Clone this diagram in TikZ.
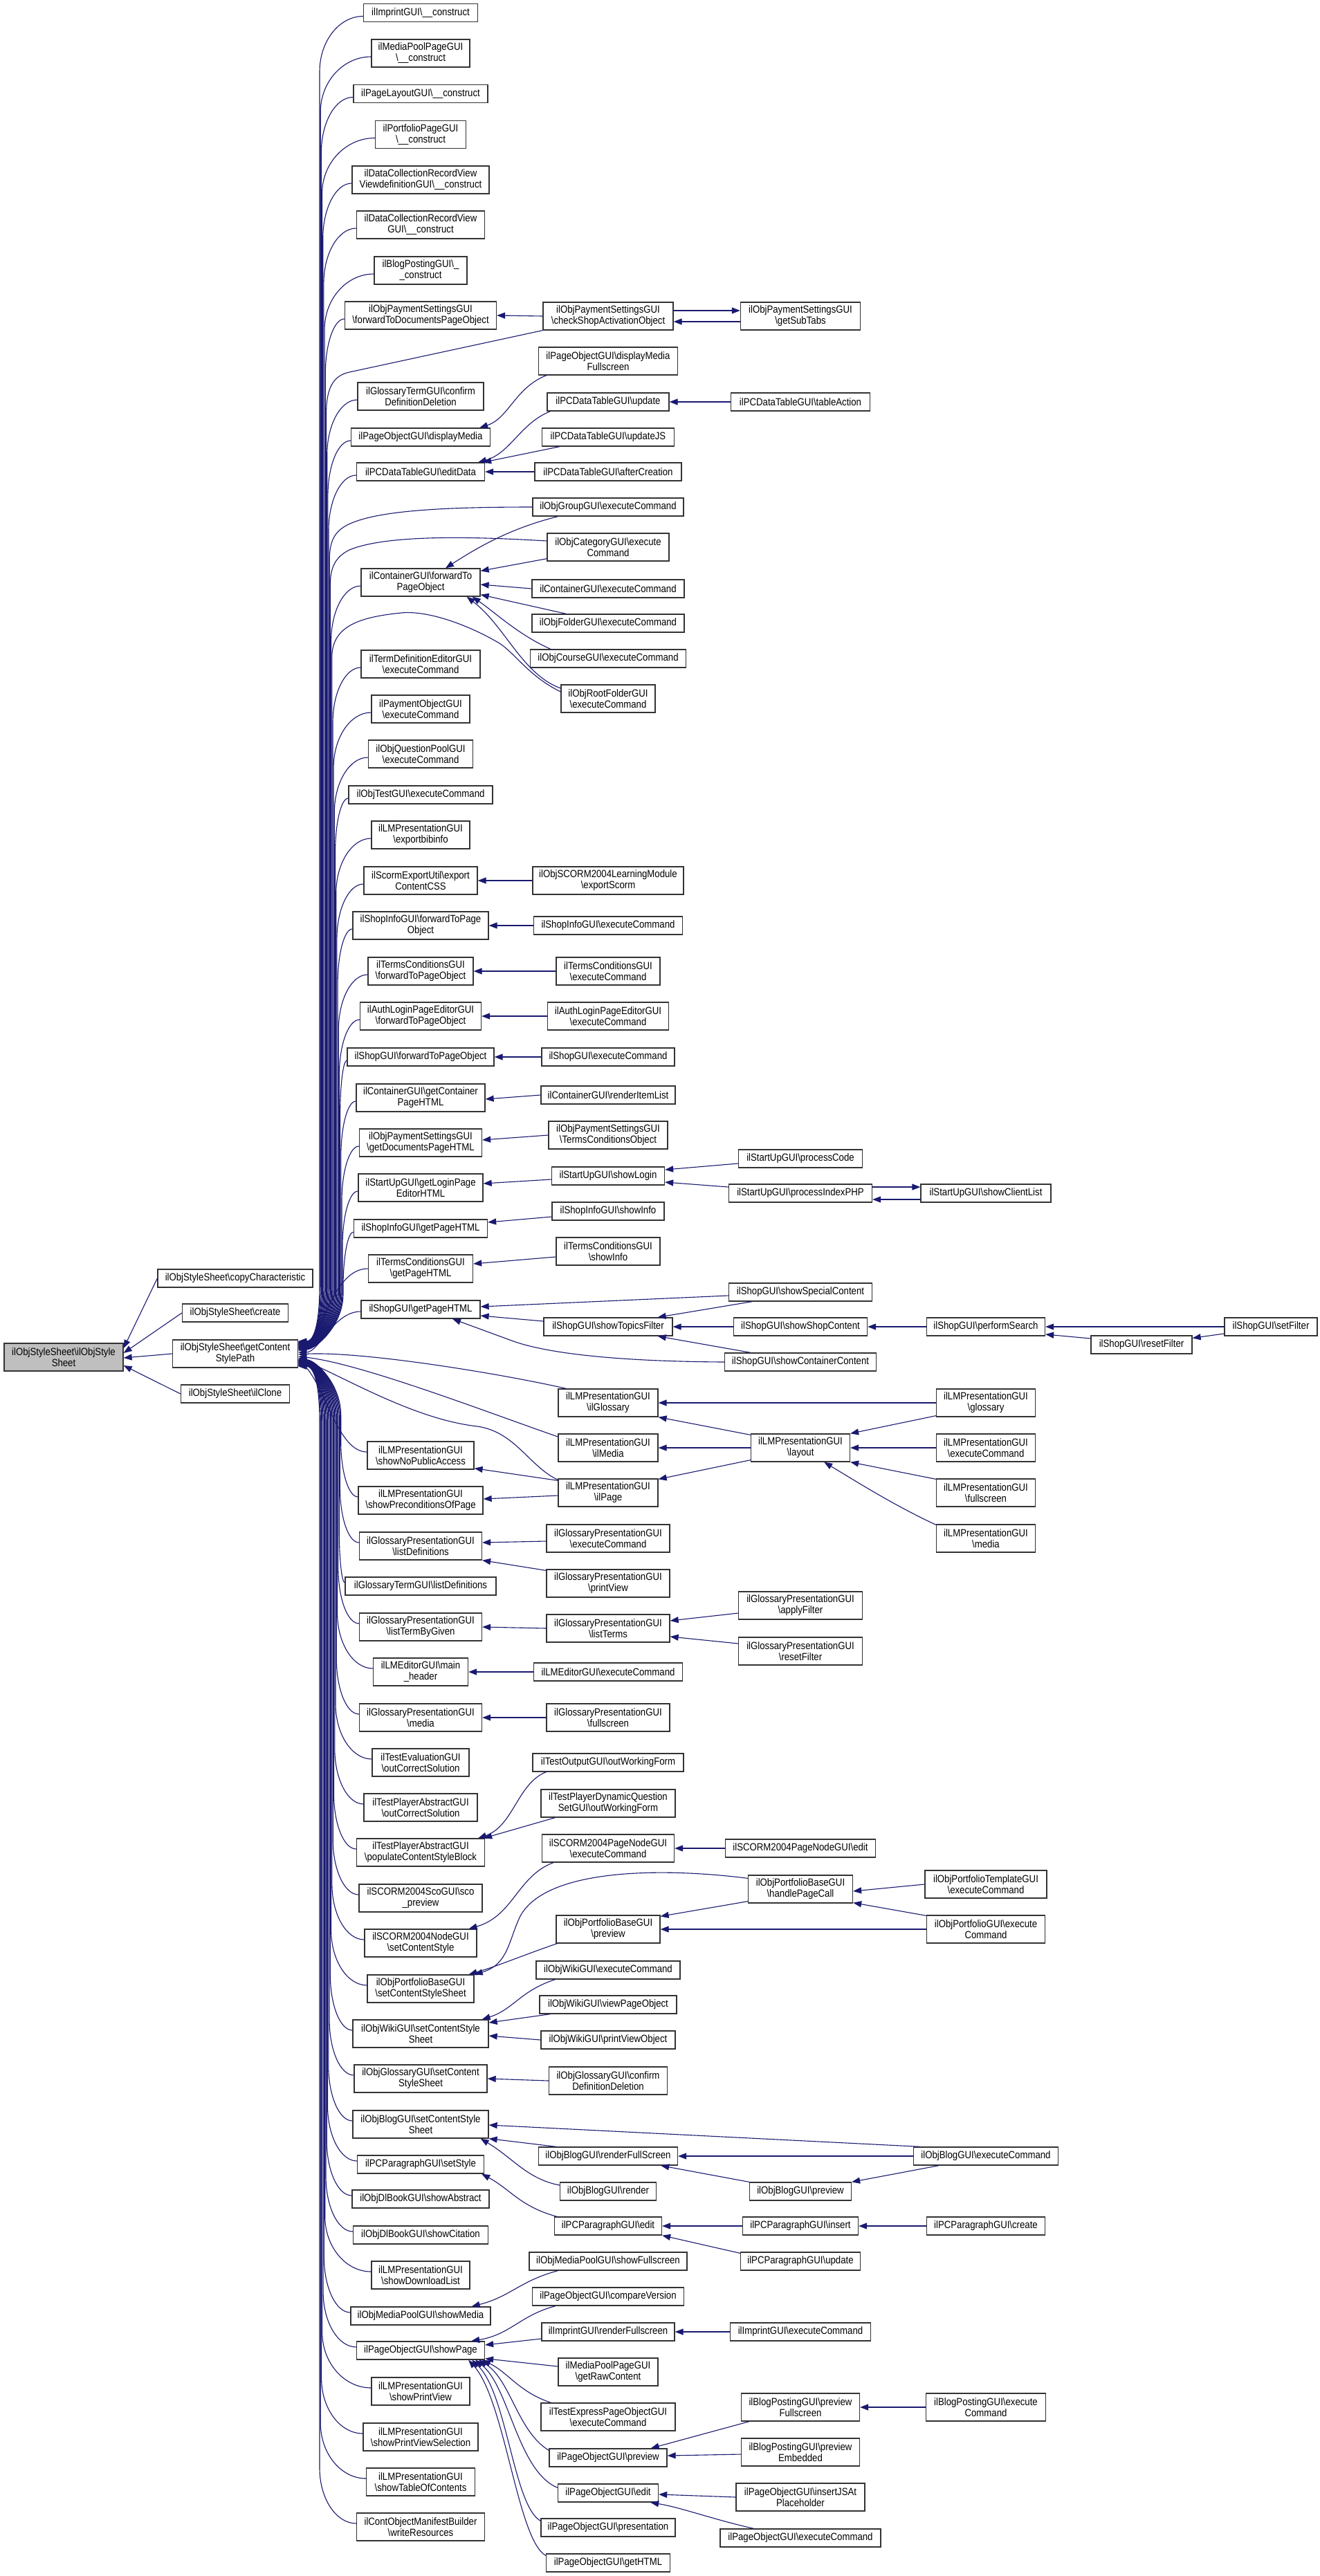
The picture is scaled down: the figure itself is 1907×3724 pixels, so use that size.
\documentclass[tikz,border=0pt]{standalone}
\usepackage{fontspec}
\setmainfont{Liberation Sans}[FakeStretch=0.88]
\usetikzlibrary{arrows.meta,calc}
\definecolor{eb}{RGB}{25,25,112}
\definecolor{rootfill}{RGB}{191,191,191}
\newcommand\bs{\textbackslash}
\tikzset{
  bx/.style={draw=black!80, line width=1.3pt, inner sep=0pt, align=center, font=\fontsize{15}{16}\selectfont},
  e/.style={draw=eb, line width=1.1pt, -{Triangle[length=12pt,width=9pt]}},
}
\newcommand\nbox[6]{\node[bx, minimum width=#4pt, minimum height=#5pt] (#1) at (#2,-#3) {#6};}
\newcommand\fanU[3]{%
\draw[e] let \p1=($(#1.west)+(0,-5)$), \p2=($(gcsp.east)+(0,#3)$) in
 (\p1) .. controls ({\x1-0.55*(\x1-#2)},\y1) and (#2,{\y1-36}) .. (#2,{\y1-80})
 -- (#2,{\y2+80}) .. controls (#2,{\y2+35}) and ({\x2+25},\y2) .. (\p2);}
\newcommand\fanD[3]{%
\draw[e] let \p1=($(#1.west)+(0,5)$), \p2=($(gcsp.east)+(0,#3)$) in
 (\p1) .. controls ({\x1-0.55*(\x1-#2)},\y1) and (#2,{\y1+36}) .. (#2,{\y1+80})
 -- (#2,{\y2-80}) .. controls (#2,{\y2-35}) and ({\x2+25},\y2) .. (\p2);}
\begin{document}
\begin{tikzpicture}[x=1pt,y=1pt]
\useasboundingbox (0,0) rectangle (1907,-3724);
\fill[white] (0,0) rectangle (1907,-3724);

% root and column 2
\node[bx, fill=rootfill, minimum width=172pt, minimum height=40pt] (root) at (92,-1962) {ilObjStyleSheet\bs ilObjStyle\\Sheet};
\nbox{copyChar}{340}{1848}{224}{26}{ilObjStyleSheet\bs copyCharacteristic}
\nbox{create}{340}{1898}{153}{26}{ilObjStyleSheet\bs create}
\nbox{gcsp}{340}{1957}{181}{40}{ilObjStyleSheet\bs getContent\\StylePath}
\nbox{ilClone}{340}{2015}{157}{26}{ilObjStyleSheet\bs ilClone}

% column 3
\nbox{c1}{608}{18.5}{165}{26}{ilImprintGUI\bs\_\_construct}
\nbox{c2}{608}{77}{142}{40}{ilMediaPoolPageGUI\\\bs\_\_construct}
\nbox{c3}{608}{135.5}{194}{26}{ilPageLayoutGUI\bs\_\_construct}
\nbox{c4}{608}{194.5}{131}{40}{ilPortfolioPageGUI\\\bs\_\_construct}
\nbox{c5}{608}{260}{198}{40}{ilDataCollectionRecordView\\ViewdefinitionGUI\bs\_\_construct}
\nbox{c6}{608}{325}{185}{40}{ilDataCollectionRecordView\\GUI\bs\_\_construct}
\nbox{c7}{608}{391}{134}{40}{ilBlogPostingGUI\bs\_\\\_construct}
\nbox{c8}{608}{456}{219}{40}{ilObjPaymentSettingsGUI\\\bs forwardToDocumentsPageObject}
\nbox{c9}{608}{573}{182}{40}{ilGlossaryTermGUI\bs confirm\\DefinitionDeletion}
\nbox{c10}{608}{632}{201}{26}{ilPageObjectGUI\bs displayMedia}
\nbox{c11}{608}{682}{185}{26}{ilPCDataTableGUI\bs editData}
\nbox{c12}{608}{842}{172}{40}{ilContainerGUI\bs forwardTo\\PageObject}
\nbox{c13}{608}{960}{172}{40}{ilTermDefinitionEditorGUI\\\bs executeCommand}
\nbox{c14}{608}{1025}{142}{40}{ilPaymentObjectGUI\\\bs executeCommand}
\nbox{c15}{608}{1090}{151}{40}{ilObjQuestionPoolGUI\\\bs executeCommand}
\nbox{c16}{608}{1149}{208}{26}{ilObjTestGUI\bs executeCommand}
\nbox{c17}{608}{1207}{142}{40}{ilLMPresentationGUI\\\bs exportbibinfo}
\nbox{c18}{608}{1273}{164}{40}{ilScormExportUtil\bs export\\ContentCSS}
\nbox{c19}{608}{1338}{196}{40}{ilShopInfoGUI\bs forwardToPage\\Object}
\nbox{c20}{608}{1404}{152}{40}{ilTermsConditionsGUI\\\bs forwardToPageObject}
\nbox{c21}{608}{1469}{175}{40}{ilAuthLoginPageEditorGUI\\\bs forwardToPageObject}
\nbox{c22}{608}{1528}{212}{26}{ilShopGUI\bs forwardToPageObject}
\nbox{c23}{608}{1587}{186}{40}{ilContainerGUI\bs getContainer\\PageHTML}
\nbox{c24}{608}{1652}{177}{40}{ilObjPaymentSettingsGUI\\\bs getDocumentsPageHTML}
\nbox{c25}{608}{1717}{180}{40}{ilStartUpGUI\bs getLoginPage\\EditorHTML}
\nbox{c26}{608}{1776}{193}{26}{ilShopInfoGUI\bs getPageHTML}
\nbox{c27}{608}{1834}{151}{40}{ilTermsConditionsGUI\\\bs getPageHTML}
\nbox{c28}{608}{1893}{172}{26}{ilShopGUI\bs getPageHTML}
\nbox{c29}{608}{2104}{154}{40}{ilLMPresentationGUI\\\bs showNoPublicAccess}
\nbox{c30}{608}{2169}{180}{40}{ilLMPresentationGUI\\\bs showPreconditionsOfPage}
\nbox{c31}{608}{2235}{177}{40}{ilGlossaryPresentationGUI\\\bs listDefinitions}
\nbox{c32}{608}{2293}{218}{26}{ilGlossaryTermGUI\bs listDefinitions}
\nbox{c33}{608}{2352}{177}{40}{ilGlossaryPresentationGUI\\\bs listTermByGiven}
\nbox{c34}{608}{2417}{137}{40}{ilLMEditorGUI\bs main\\\_header}
\nbox{c35}{608}{2483}{177}{40}{ilGlossaryPresentationGUI\\\bs media}
\nbox{c36}{608}{2548}{140}{40}{ilTestEvaluationGUI\\\bs outCorrectSolution}
\nbox{c37}{608}{2613}{164}{40}{ilTestPlayerAbstractGUI\\\bs outCorrectSolution}
\nbox{c38}{608}{2678}{185}{40}{ilTestPlayerAbstractGUI\\\bs populateContentStyleBlock}
\nbox{c39}{608}{2744}{178}{40}{ilSCORM2004ScoGUI\bs sco\\\_preview}
\nbox{c40}{608}{2809}{162}{40}{ilSCORM2004NodeGUI\\\bs setContentStyle}
\nbox{c41}{608}{2875}{154}{40}{ilObjPortfolioBaseGUI\\\bs setContentStyleSheet}
\nbox{c42}{608}{2940}{196}{40}{ilObjWikiGUI\bs setContentStyle\\Sheet}
\nbox{c43}{608}{3005}{192}{40}{ilObjGlossaryGUI\bs setContent\\StyleSheet}
\nbox{c44}{608}{3071}{196}{40}{ilObjBlogGUI\bs setContentStyle\\Sheet}
\nbox{c45}{608}{3129}{183}{26}{ilPCParagraphGUI\bs setStyle}
\nbox{c46}{608}{3179}{198}{26}{ilObjDlBookGUI\bs showAbstract}
\nbox{c47}{608}{3231}{195}{26}{ilObjDlBookGUI\bs showCitation}
\nbox{c48}{608}{3289}{142}{40}{ilLMPresentationGUI\\\bs showDownloadList}
\nbox{c49}{608}{3348}{202}{26}{ilObjMediaPoolGUI\bs showMedia}
\nbox{c50}{608}{3398}{185}{26}{ilPageObjectGUI\bs showPage}
\nbox{c51}{608}{3457}{142}{40}{ilLMPresentationGUI\\\bs showPrintView}
\nbox{c52}{608}{3523}{166}{40}{ilLMPresentationGUI\\\bs showPrintViewSelection}
\nbox{c53}{608}{3588}{157}{40}{ilLMPresentationGUI\\\bs showTableOfContents}
\nbox{c54}{608}{3653}{185}{40}{ilContObjectManifestBuilder\\\bs writeResources}

% column 4
\nbox{checkShop}{879}{457}{188}{40}{ilObjPaymentSettingsGUI\\\bs checkShopActivationObject}
\nbox{dispMediaFull}{879}{522}{201}{40}{ilPageObjectGUI\bs displayMedia\\Fullscreen}
\nbox{dtUpdate}{879}{581}{176}{26}{ilPCDataTableGUI\bs update}
\nbox{dtUpdateJS}{879}{632}{191}{26}{ilPCDataTableGUI\bs updateJS}
\nbox{dtAfterCreation}{879}{682}{212}{26}{ilPCDataTableGUI\bs afterCreation}
\nbox{groupExec}{879}{733}{218}{26}{ilObjGroupGUI\bs executeCommand}
\nbox{catExec}{879}{791}{176}{40}{ilObjCategoryGUI\bs execute\\Command}
\nbox{contExec}{879}{851}{220}{26}{ilContainerGUI\bs executeCommand}
\nbox{folderExec}{879}{901}{220}{26}{ilObjFolderGUI\bs executeCommand}
\nbox{courseExec}{879}{952}{225}{26}{ilObjCourseGUI\bs executeCommand}
\nbox{rootExec}{879}{1010}{136}{40}{ilObjRootFolderGUI\\\bs executeCommand}
\nbox{exportScorm}{879}{1273}{218}{40}{ilObjSCORM2004LearningModule\\\bs exportScorm}
\nbox{shopInfoExec}{879}{1338}{215}{26}{ilShopInfoGUI\bs executeCommand}
\nbox{termsExec}{879}{1404}{150}{40}{ilTermsConditionsGUI\\\bs executeCommand}
\nbox{authExec}{879}{1469}{175}{40}{ilAuthLoginPageEditorGUI\\\bs executeCommand}
\nbox{shopExec}{879}{1528}{192}{26}{ilShopGUI\bs executeCommand}
\nbox{renderItemList}{879}{1583}{194}{26}{ilContainerGUI\bs renderItemList}
\nbox{termsCondObj}{879}{1641}{172}{40}{ilObjPaymentSettingsGUI\\\bs TermsConditionsObject}
\nbox{showLogin}{879}{1700}{163}{26}{ilStartUpGUI\bs showLogin}
\nbox{shopInfoShowInfo}{879}{1751}{162}{26}{ilShopInfoGUI\bs showInfo}
\nbox{termsShowInfo}{879}{1809}{150}{40}{ilTermsConditionsGUI\\\bs showInfo}
\nbox{topicsFilter}{879}{1918}{186}{26}{ilShopGUI\bs showTopicsFilter}
\nbox{lmGlossary}{879}{2028}{144}{40}{ilLMPresentationGUI\\\bs ilGlossary}
\nbox{lmMedia}{879}{2093}{144}{40}{ilLMPresentationGUI\\\bs ilMedia}
\nbox{lmPage}{879}{2158}{144}{40}{ilLMPresentationGUI\\\bs ilPage}
\nbox{gpExec}{879}{2224}{178}{40}{ilGlossaryPresentationGUI\\\bs executeCommand}
\nbox{gpPrint}{879}{2289}{178}{40}{ilGlossaryPresentationGUI\\\bs printView}
\nbox{gpListTerms}{879}{2354}{178}{40}{ilGlossaryPresentationGUI\\\bs listTerms}
\nbox{lmEditExec}{879}{2417}{215}{26}{ilLMEditorGUI\bs executeCommand}
\nbox{gpFullscreen}{879}{2483}{178}{40}{ilGlossaryPresentationGUI\\\bs fullscreen}
\nbox{testOutWF}{879}{2548}{218}{26}{ilTestOutputGUI\bs outWorkingForm}
\nbox{tpDyn}{879}{2607}{194}{40}{ilTestPlayerDynamicQuestion\\SetGUI\bs outWorkingForm}
\nbox{scormPageExec}{879}{2672}{191}{40}{ilSCORM2004PageNodeGUI\\\bs executeCommand}
\nbox{portPreview}{879}{2789}{150}{40}{ilObjPortfolioBaseGUI\\\bs preview}
\nbox{wikiExec}{879}{2848}{208}{26}{ilObjWikiGUI\bs executeCommand}
\nbox{wikiView}{879}{2898}{198}{26}{ilObjWikiGUI\bs viewPageObject}
\nbox{wikiPrint}{879}{2949}{194}{26}{ilObjWikiGUI\bs printViewObject}
\nbox{glossConfirm}{879}{3008}{171}{40}{ilObjGlossaryGUI\bs confirm\\DefinitionDeletion}
\nbox{blogRenderFS}{879}{3117}{201}{26}{ilObjBlogGUI\bs renderFullScreen}
\nbox{blogRender}{879}{3168}{139}{26}{ilObjBlogGUI\bs render}
\nbox{pcEdit}{879}{3218}{155}{26}{ilPCParagraphGUI\bs edit}
\nbox{mpShowFS}{879}{3269}{228}{26}{ilObjMediaPoolGUI\bs showFullscreen}
\nbox{compareVersion}{879}{3320}{219}{26}{ilPageObjectGUI\bs compareVersion}
\nbox{imprintRenderFS}{879}{3371}{192}{26}{ilImprintGUI\bs renderFullscreen}
\nbox{getRawContent}{879}{3429}{144}{40}{ilMediaPoolPageGUI\\\bs getRawContent}
\nbox{testExpressExec}{879}{3494}{194}{40}{ilTestExpressPageObjectGUI\\\bs executeCommand}
\nbox{poPreview}{879}{3553}{170}{26}{ilPageObjectGUI\bs preview}
\nbox{poEdit}{879}{3604}{145}{26}{ilPageObjectGUI\bs edit}
\nbox{poPresentation}{879}{3654}{194}{26}{ilPageObjectGUI\bs presentation}
\nbox{poGetHTML}{879}{3705}{179}{26}{ilPageObjectGUI\bs getHTML}

% column 5
\nbox{getSubTabs}{1157}{457}{173}{40}{ilObjPaymentSettingsGUI\\\bs getSubTabs}
\nbox{tableAction}{1157}{581}{201}{26}{ilPCDataTableGUI\bs tableAction}
\nbox{processCode}{1157}{1675}{179}{26}{ilStartUpGUI\bs processCode}
\nbox{processIndex}{1157}{1725}{207}{26}{ilStartUpGUI\bs processIndexPHP}
\nbox{showSpecial}{1157}{1868}{207}{26}{ilShopGUI\bs showSpecialContent}
\nbox{showShop}{1157}{1918}{193}{26}{ilShopGUI\bs showShopContent}
\nbox{showContainer}{1157}{1969}{219}{26}{ilShopGUI\bs showContainerContent}
\nbox{layout}{1157}{2093}{143}{40}{ilLMPresentationGUI\\\bs layout}
\nbox{gpApply}{1157}{2321}{179}{40}{ilGlossaryPresentationGUI\\\bs applyFilter}
\nbox{gpReset}{1157}{2387}{179}{40}{ilGlossaryPresentationGUI\\\bs resetFilter}
\nbox{scormPageEdit}{1157}{2672}{217}{26}{ilSCORM2004PageNodeGUI\bs edit}
\nbox{handlePageCall}{1157}{2731}{151}{40}{ilObjPortfolioBaseGUI\\\bs handlePageCall}
\nbox{blogPreview}{1157}{3168}{147}{26}{ilObjBlogGUI\bs preview}
\nbox{pcInsert}{1157}{3218}{167}{26}{ilPCParagraphGUI\bs insert}
\nbox{pcUpdate}{1157}{3269}{173}{26}{ilPCParagraphGUI\bs update}
\nbox{imprintExec}{1157}{3371}{203}{26}{ilImprintGUI\bs executeCommand}
\nbox{bpPreviewFS}{1157}{3480}{171}{40}{ilBlogPostingGUI\bs preview\\Fullscreen}
\nbox{bpPreviewEmb}{1157}{3545}{171}{40}{ilBlogPostingGUI\bs preview\\Embedded}
\nbox{insertJS}{1157}{3610}{186}{40}{ilPageObjectGUI\bs insertJSAt\\Placeholder}
\nbox{poExec}{1157}{3669}{232}{26}{ilPageObjectGUI\bs executeCommand}

% column 6 and 7
\nbox{showClientList}{1425}{1725}{188}{26}{ilStartUpGUI\bs showClientList}
\nbox{performSearch}{1425}{1918}{171}{26}{ilShopGUI\bs performSearch}
\nbox{lmGlossary2}{1425}{2028}{143}{40}{ilLMPresentationGUI\\\bs glossary}
\nbox{lmExec}{1425}{2093}{143}{40}{ilLMPresentationGUI\\\bs executeCommand}
\nbox{lmFullscreen}{1425}{2158}{143}{40}{ilLMPresentationGUI\\\bs fullscreen}
\nbox{lmMedia2}{1425}{2224}{143}{40}{ilLMPresentationGUI\\\bs media}
\nbox{portTemplateExec}{1425}{2724}{176}{40}{ilObjPortfolioTemplateGUI\\\bs executeCommand}
\nbox{portExec}{1425}{2789}{171}{40}{ilObjPortfolioGUI\bs execute\\Command}
\nbox{blogExec}{1425}{3117}{209}{26}{ilObjBlogGUI\bs executeCommand}
\nbox{pcCreate}{1425}{3218}{171}{26}{ilPCParagraphGUI\bs create}
\nbox{bpExec}{1425}{3480}{173}{40}{ilBlogPostingGUI\bs execute\\Command}
\nbox{resetFilter}{1650}{1944}{146}{26}{ilShopGUI\bs resetFilter}
\nbox{setFilter}{1837}{1918}{134}{26}{ilShopGUI\bs setFilter}

% ---------- edges to root
\draw[e] (copyChar.west) -- ($(root.east)+(0,13)$);
\draw[e] (create.west) -- ($(root.east)+(0,6)$);
\draw[e] (gcsp.west) -- ($(root.east)+(0,-1)$);
\draw[e] (ilClone.west) -- ($(root.east)+(0,-12)$);

% ---------- fan into getContentStylePath (above)
\fanU{c1}{462.0}{18.0}
\fanU{c2}{463.2}{17.6}
\fanU{c3}{464.4}{17.2}
\fanU{c4}{465.6}{16.8}
\fanU{c5}{466.7}{16.4}
\fanU{c6}{467.9}{16.0}
\fanU{c7}{469.1}{15.6}
\fanU{c8}{470.3}{15.2}
\fanU{c9}{472.7}{14.4}
\fanU{c10}{473.9}{14.0}
\fanU{c11}{475.0}{13.6}
\fanU{c12}{478.6}{12.4}
\fanU{c13}{481.0}{11.6}
\fanU{c14}{482.1}{11.2}
\fanU{c15}{483.3}{10.8}
\fanU{c16}{484.5}{10.4}
\fanU{c17}{485.7}{10.0}
\fanU{c18}{486.9}{9.6}
\fanU{c19}{488.1}{9.2}
\fanU{c20}{489.3}{8.8}
\fanU{c21}{490.4}{8.4}
\fanU{c22}{491.6}{8.0}
\fanU{c23}{492.8}{7.6}
\fanU{c24}{494.0}{7.2}
\fanU{c25}{495.0}{6.6}
\fanU{c26}{496.0}{6.0}
% near ones
\draw[e] let \p2=($(gcsp.east)+(0,4)$) in (c27.west) .. controls (480,-1834) and ({\x2+35},{\y2+20}) .. (\p2);
\draw[e] let \p2=($(gcsp.east)+(0,2)$) in ($(c28.west)+(0,-3)$) .. controls (482,-1896) and ({\x2+30},\y2) .. (\p2);
\draw[e] let \p2=($(gcsp.east)+(0,-8)$) in ($(c29.west)+(0,5)$) .. controls (488,-2099) and ({\x2+40},{\y2-40}) .. (\p2);
% below
\fanD{c30}{492.7}{-8.6}
\fanD{c31}{491.4}{-9.0}
\fanD{c32}{490.2}{-9.4}
\fanD{c33}{488.9}{-9.8}
\fanD{c34}{487.6}{-10.2}
\fanD{c35}{486.3}{-10.6}
\fanD{c36}{485.0}{-11.0}
\fanD{c37}{483.8}{-11.4}
\fanD{c38}{482.5}{-11.8}
\fanD{c39}{481.2}{-12.2}
\fanD{c40}{479.9}{-12.6}
\fanD{c41}{478.6}{-13.0}
\fanD{c42}{477.4}{-13.4}
\fanD{c43}{476.1}{-13.8}
\fanD{c44}{474.8}{-14.2}
\fanD{c45}{473.5}{-14.6}
\fanD{c46}{472.2}{-15.0}
\fanD{c47}{471.0}{-15.4}
\fanD{c48}{469.7}{-15.8}
\fanD{c49}{468.4}{-16.2}
\fanD{c50}{467.1}{-16.6}
\fanD{c51}{465.8}{-17.0}
\fanD{c52}{464.6}{-17.4}
\fanD{c53}{463.3}{-17.8}
\fanD{c54}{462.0}{-18.2}

% column-4 callers of getContentStylePath
\draw[e] let \p2=($(gcsp.east)+(0,14.8)$) in (checkShop.south west) -- (505,-538) .. controls (482,-543) and (471.5,-560) .. (471.5,-600) -- (471.5,{\y2+80}) .. controls (471.5,{\y2+35}) and ({\x2+25},\y2) .. (\p2);
\draw[e] let \p2=($(gcsp.east)+(0,13.2)$) in (groupExec.west) .. controls (640,-733) and (540,-738) .. (500,-760) .. controls (482,-770) and (476.2,-785) .. (476.2,-810) -- (476.2,{\y2+80}) .. controls (476.2,{\y2+35}) and ({\x2+25},\y2) .. (\p2);
\draw[e] let \p2=($(gcsp.east)+(0,12.8)$) in ($(catExec.west)+(0,9)$) .. controls (690,-776) and (560,-772) .. (505,-795) .. controls (485,-805) and (477.4,-820) .. (477.4,-845) -- (477.4,{\y2+80}) .. controls (477.4,{\y2+35}) and ({\x2+25},\y2) .. (\p2);
\draw[e] let \p2=($(gcsp.east)+(0,12)$) in ($(rootExec.west)+(0,10)$) .. controls (765,-978) and (745,-945) .. (722,-930) .. controls (680,-905) and (620,-882) .. (580,-886) .. controls (520,-892) and (479.8,-905) .. (479.8,-950) -- (479.8,{\y2+80}) .. controls (479.8,{\y2+35}) and ({\x2+25},\y2) .. (\p2);
\draw[e] let \p2=($(gcsp.east)+(0,-1)$) in ($(lmGlossary.north west)+(12,0)$) .. controls (720,-1985) and ({\x2+90},{\y2+5}) .. (\p2);
\draw[e] let \p2=($(gcsp.east)+(0,-4)$) in ($(lmMedia.west)+(0,16)$) .. controls (700,-2040) and ({\x2+90},{\y2-10}) .. (\p2);
\draw[e] let \p2=($(gcsp.east)+(0,-6)$) in ($(lmPage.north west)+(0,-2)$) .. controls (765,-2120) and (745,-2070) .. (690,-2062) .. controls (600,-2052) and ({\x2+70},{\y2-30}) .. (\p2);

% ---------- other edges
\draw[e] (checkShop.west) -- (c8.east);
\draw[e] ($(checkShop.east)+(0,8)$) -- ($(getSubTabs.west)+(0,8)$);
\draw[e] ($(getSubTabs.west)+(0,-8)$) -- ($(checkShop.east)+(0,-8)$);
\draw[e] ($(dispMediaFull.south west)+(12,0)$) .. controls (745,-560) and (735,-605) .. ($(c10.north east)+(-16,0)$);
\draw[e] ($(dtUpdate.south west)+(5,0)$) .. controls (752,-612) and (738,-655) .. ($(c11.north east)+(-10,0)$);
\draw[e] ($(dtUpdateJS.south west)+(26,0)$) -- ($(c11.north east)+(-3,0)$);
\draw[e] (dtAfterCreation.west) -- (c11.east);
\draw[e] (tableAction.west) -- (dtUpdate.east);

\draw[e] ($(groupExec.south west)+(37,0)$) .. controls (745,-762) and (700,-785) .. ($(c12.north)+(36,0)$);
\draw[e] ($(catExec.south west)+(0,4)$) -- ($(c12.north east)+(0,-4)$);
\draw[e] (contExec.west) -- ($(c12.east)+(0,-3)$);
\draw[e] ($(folderExec.north west)+(50,0)$) -- ($(c12.south east)+(0,3)$);
\draw[e] ($(courseExec.north west)+(30,0)$) .. controls (750,-918) and (715,-885) .. ($(c12.south east)+(-12,0)$);
\draw[e] ($(rootExec.west)+(0,15)$) .. controls (755,-975) and (730,-905) .. ($(c12.south east)+(-20,0)$);

\draw[e] (exportScorm.west) -- (c18.east);
\draw[e] (shopInfoExec.west) -- (c19.east);
\draw[e] (termsExec.west) -- (c20.east);
\draw[e] (authExec.west) -- (c21.east);
\draw[e] (shopExec.west) -- (c22.east);
\draw[e] (renderItemList.west) -- ($(c23.east)+(0,-2)$);
\draw[e] (termsCondObj.west) -- ($(c24.east)+(0,4)$);
\draw[e] ($(showLogin.west)+(0,-5)$) -- ($(c25.east)+(0,6)$);
\draw[e] ($(processCode.west)+(0,-7)$) -- ($(showLogin.east)+(0,9)$);
\draw[e] ($(processIndex.west)+(0,9)$) -- ($(showLogin.east)+(0,-9)$);
\draw[e] ($(processIndex.east)+(0,9)$) -- ($(showClientList.west)+(0,9)$);
\draw[e] ($(showClientList.west)+(0,-9)$) -- ($(processIndex.east)+(0,-9)$);
\draw[e] ($(shopInfoShowInfo.west)+(0,-8)$) -- ($(c26.east)+(0,9)$);
\draw[e] ($(termsShowInfo.west)+(0,-8)$) -- ($(c27.east)+(0,7)$);

\draw[e] ($(showSpecial.west)+(0,-5)$) -- ($(c28.east)+(0,4)$);
\draw[e] ($(showSpecial.south west)+(34,0)$) -- ($(topicsFilter.north east)+(-22,0)$);
\draw[e] ($(topicsFilter.west)+(0,8)$) -- ($(c28.east)+(0,-9)$);
\draw[e] (showShop.west) -- (topicsFilter.east);
\draw[e] ($(showContainer.north west)+(38,0)$) -- ($(topicsFilter.south east)+(-22,0)$);
\draw[e] (showContainer.west) .. controls (880,-1968) and (790,-1955) .. (745,-1940) -- ($(c28.south)+(46,0)$);
\draw[e] (performSearch.west) -- (showShop.east);
\draw[e] (setFilter.west) -- (performSearch.east);
\draw[e] ($(resetFilter.west)+(0,9)$) -- ($(performSearch.east)+(0,-11)$);
\draw[e] ($(setFilter.west)+(0,-10)$) -- ($(resetFilter.north east)+(0,-4)$);

\draw[e] ($(layout.north west)+(0,-2)$) -- (lmGlossary.south east);
\draw[e] (layout.west) -- (lmMedia.east);
\draw[e] ($(layout.south west)+(0,3)$) -- ($(lmPage.north east)+(0,-1)$);
\draw[e] (lmGlossary2.west) -- (lmGlossary.east);
\draw[e] ($(lmGlossary2.south west)+(0,2)$) -- (layout.north east);
\draw[e] (lmExec.west) -- (layout.east);
\draw[e] ($(lmFullscreen.north west)+(0,-1)$) -- (layout.south east);
\draw[e] ($(lmMedia2.north west)+(0,-1)$) .. controls (1290,-2175) and (1235,-2140) .. ($(layout.south east)+(-38,0)$);
\draw[e] ($(lmPage.north west)+(0,-3)$) -- ($(c29.south east)+(0,2)$);
\draw[e] ($(lmPage.west)+(0,-4)$) -- ($(c30.east)+(0,2)$);

\draw[e] ($(gpExec.west)+(0,-4)$) -- ($(c31.east)+(0,5)$);
\draw[e] ($(gpPrint.north west)+(0,-2)$) -- (c31.south east);
\draw[e] (gpListTerms.west) -- (c33.east);
\draw[e] ($(gpApply.west)+(0,-11)$) -- ($(gpListTerms.east)+(0,11)$);
\draw[e] ($(gpReset.west)+(0,11)$) -- ($(gpListTerms.east)+(0,-12)$);
\draw[e] (lmEditExec.west) -- (c34.east);
\draw[e] (gpFullscreen.west) -- (c35.east);

\draw[e] ($(testOutWF.south west)+(20,0)$) .. controls (748,-2578) and (742,-2640) .. ($(c38.north east)+(-10,0)$);
\draw[e] ($(tpDyn.south west)+(21,0)$) -- ($(c38.north east)+(-2,0)$);
\draw[e] (scormPageEdit.west) -- (scormPageExec.east);
\draw[e] ($(scormPageExec.south west)+(17,0)$) .. controls (748,-2712) and (742,-2770) .. ($(c40.north east)+(-12,0)$);

\draw[e] ($(handlePageCall.north west)+(0,-5)$) .. controls (960,-2700) and (790,-2700) .. (752,-2770) .. controls (735,-2805) and (735,-2840) .. (c41.north east);
\draw[e] ($(handlePageCall.south west)+(0,3)$) -- ($(portPreview.north east)+(0,-2)$);
\draw[e] ($(portPreview.south west)+(2,0)$) .. controls (760,-2825) and (720,-2842) .. ($(c41.north east)+(-8,0)$);
\draw[e] (portExec.west) -- (portPreview.east);
\draw[e] ($(portExec.north west)+(0,-1)$) -- ($(handlePageCall.south east)+(0,1)$);
\draw[e] (portTemplateExec.west) -- ($(handlePageCall.east)+(0,-3)$);

\draw[e] ($(wikiExec.south west)+(28,0)$) .. controls (752,-2878) and (742,-2905) .. ($(c42.north east)+(-10,0)$);
\draw[e] ($(wikiView.south west)+(16,0)$) -- ($(c42.east)+(0,16)$);
\draw[e] (wikiPrint.west) -- ($(c42.east)+(0,-3)$);
\draw[e] (glossConfirm.west) -- (c43.east);

\draw[e] ($(blogExec.north west)+(10,0)$) -- ($(c44.east)+(0,-1)$);
\draw[e] (blogExec.west) -- (blogRenderFS.east);
\draw[e] ($(blogExec.south west)+(37,0)$) -- (blogPreview.north east);
\draw[e] (blogPreview.north west) -- ($(blogRenderFS.south east)+(-25,0)$);
\draw[e] ($(blogRenderFS.north west)+(26,0)$) -- (c44.south east);
\draw[e] ($(blogRender.west)+(0,9)$) .. controls (762,-3150) and (742,-3120) .. ($(c44.south east)+(-12,0)$);

\draw[e] ($(pcEdit.north west)+(4,0)$) .. controls (752,-3190) and (738,-3165) .. ($(c45.south east)+(-4,0)$);
\draw[e] (pcInsert.west) -- (pcEdit.east);
\draw[e] ($(pcUpdate.north west)+(0,-2)$) -- (pcEdit.south east);
\draw[e] (pcCreate.west) -- (pcInsert.east);

\draw[e] ($(mpShowFS.south west)+(42,0)$) .. controls (752,-3297) and (738,-3320) .. ($(c49.north east)+(-28,0)$);

\draw[e] ($(compareVersion.south west)+(34,0)$) .. controls (752,-3347) and (738,-3375) .. ($(c50.north east)+(-20,0)$);
\draw[e] ($(imprintRenderFS.west)+(0,-10)$) -- ($(c50.east)+(0,8)$);
\draw[e] (imprintExec.west) -- (imprintRenderFS.east);
\draw[e] ($(getRawContent.west)+(0,8)$) -- ($(c50.south east)+(0,2)$);
\draw[e] ($(testExpressExec.north west)+(15,0)$) .. controls (750,-3458) and (735,-3430) .. ($(c50.south east)+(-4,0)$);
\draw[e] ($(poPreview.north west)+(0,-3)$) .. controls (748,-3515) and (738,-3440) .. ($(c50.south east)+(-9,0)$);
\draw[e] ($(poEdit.north west)+(0,-6)$) .. controls (748,-3572) and (736,-3450) .. ($(c50.south east)+(-14,0)$);
\draw[e] ($(poPresentation.north west)+(0,-4)$) .. controls (742,-3622) and (733,-3460) .. ($(c50.south east)+(-19,0)$);
\draw[e] ($(poGetHTML.north west)+(0,-3)$) .. controls (748,-3672) and (730,-3470) .. ($(c50.south east)+(-24,0)$);
\draw[e] ($(bpPreviewFS.south west)+(12,0)$) -- ($(poPreview.north east)+(-24,0)$);
\draw[e] ($(bpPreviewEmb.west)+(0,-3)$) -- ($(poPreview.east)+(0,3)$);
\draw[e] (bpExec.west) -- (bpPreviewFS.east);
\draw[e] (insertJS.west) -- ($(poEdit.east)+(0,-2)$);
\draw[e] ($(poExec.north west)+(49,0)$) .. controls (1030,-3642) and (985,-3625) .. ($(poEdit.south east)+(-12,0)$);
\end{tikzpicture}
\end{document}
